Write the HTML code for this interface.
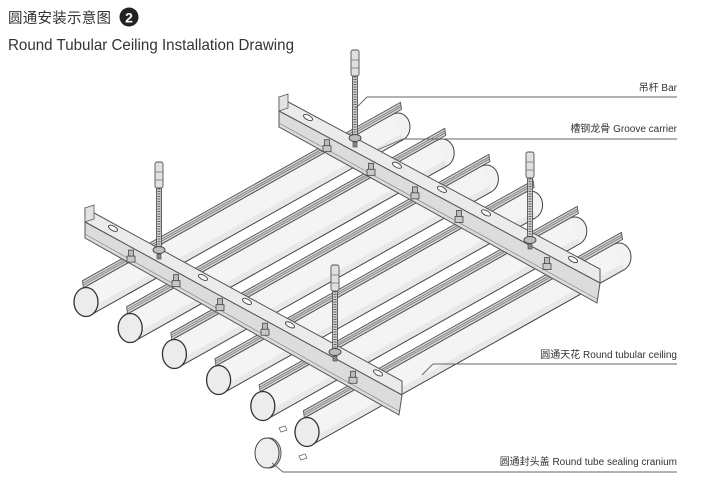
<!DOCTYPE html>
<html><head><meta charset="utf-8">
<style>
html,body{margin:0;padding:0;background:#fff;}
svg{display:block;}
text{font-family:"Liberation Sans","Noto Sans CJK SC",sans-serif;fill:#333;}
</style></head>
<body>
<svg id="s" width="712" height="488" viewBox="0 0 712 488" xmlns="http://www.w3.org/2000/svg">
<g id="draw"></g>
<text x="8" y="23" font-size="14.5" textLength="103">圆通安装示意图</text>
<circle cx="129" cy="17" r="9.5" fill="#222"/>
<text x="129" y="22.5" font-size="14" font-weight="bold" text-anchor="middle" style="fill:#fff">2</text>
<text x="8" y="50" font-size="16" textLength="286" lengthAdjust="spacingAndGlyphs">Round Tubular Ceiling Installation Drawing</text>

<g stroke="#666" stroke-width="0.9" fill="none">
<polyline points="356,108 367,97 677,97"/>
<polyline points="377,150 403,139 677,139"/>
<polyline points="422,375 433,364 677,364"/>
<polyline points="272,463 283,472 677,472"/>
</g>
<text x="677" y="91" font-size="10" text-anchor="end">吊杆  Bar</text>
<text x="677" y="132" font-size="10" text-anchor="end">槽钢龙骨  Groove carrier</text>
<text x="677" y="358" font-size="10" text-anchor="end">圆通天花 Round tubular ceiling</text>
<text x="677" y="465" font-size="10" text-anchor="end">圆通封头盖  Round tube sealing cranium</text>
</svg>
<script>
(function(){
var g=document.getElementById('draw'),h='';
function P(a){return a.map(function(p){return p[0].toFixed(1)+','+p[1].toFixed(1)}).join(' ');}
function add(p,q){return [p[0]+q[0],p[1]+q[1]];}
function sub(p,q){return [p[0]-q[0],p[1]-q[1]];}
function mul(p,k){return [p[0]*k,p[1]*k];}
var AX=[312,-175],L=Math.hypot(AX[0],AX[1]),u=[AX[0]/L,AX[1]/L];
var o=[5.2,12.7];
for(var i=0;i<6;i++){
 var F=[86+44.2*i,302+26*i],B=add(F,AX);
 h+='<ellipse cx="'+B[0]+'" cy="'+B[1]+'" rx="12" ry="14" fill="#f2f2f2" stroke="#444" stroke-width="1"/>';
 h+='<polygon points="'+P([sub(F,o),sub(B,o),add(B,o),add(F,o)])+'" fill="#f4f4f4"/>';
 var s1=add(F,mul(o,0.55)),s2=add(B,mul(o,0.55));
 h+='<polygon points="'+P([s1,s2,add(B,o),add(F,o)])+'" fill="#e8e8e8"/>';
 h+='<line x1="'+sub(F,o)[0]+'" y1="'+sub(F,o)[1]+'" x2="'+sub(B,o)[0]+'" y2="'+sub(B,o)[1]+'" stroke="#444" stroke-width="1"/>';
 h+='<line x1="'+add(F,o)[0]+'" y1="'+add(F,o)[1]+'" x2="'+add(B,o)[0]+'" y2="'+add(B,o)[1]+'" stroke="#444" stroke-width="1"/>';
 var c1=add(sub(F,o),mul(u,3)),c2=add(sub(B,o),mul(u,10));
 var up=[-1,-7];
 h+='<polygon points="'+P([c1,c2,add(c2,up),add(c1,up)])+'" fill="#d4d4d4" stroke="#555" stroke-width="0.9"/>';
 [[-0.5,-2.5],[-0.7,-4.5]].forEach(function(d){var a=add(c1,d),b=add(c2,d);h+='<line x1="'+a[0]+'" y1="'+a[1]+'" x2="'+b[0]+'" y2="'+b[1]+'" stroke="#777" stroke-width="0.8"/>';});
 h+='<ellipse cx="'+F[0]+'" cy="'+F[1]+'" rx="12" ry="14.5" fill="#ececec" stroke="#333" stroke-width="1.3"/>';
}
function beam(x0,y0,x1,y1,slots,bolts){
 var s=(y1-y0)/(x1-x0);function yt(x){return y0+s*(x-x0);}
 h+='<polygon points="'+P([[x0,y0],[x1,y1],[x1,y1+14],[x0,y0+14]])+'" fill="#ebebeb" stroke="#555" stroke-width="1"/>';
 h+='<polygon points="'+P([[x0,y0+14],[x1,y1+14],[x1-3,y1+34],[x0,y0+30]])+'" fill="#dcdcdc" stroke="#555" stroke-width="1"/>';
 h+='<line x1="'+x0+'" y1="'+(y0+26)+'" x2="'+(x1-3)+'" y2="'+(y1+30)+'" stroke="#888" stroke-width="0.7"/>';
 h+='<polygon points="'+P([[x0,y0],[x0+9,y0-3],[x0+9,y0+11],[x0,y0+14]])+'" fill="#e2e2e2" stroke="#555" stroke-width="0.8"/>';
 var ang=Math.atan(s)*180/Math.PI;
 slots.forEach(function(x){h+='<ellipse cx="'+x+'" cy="'+(yt(x)+5)+'" rx="5" ry="2.3" transform="rotate('+ang+' '+x+' '+(yt(x)+5)+')" fill="#fafafa" stroke="#444" stroke-width="0.9"/>';});
 bolts.forEach(function(x){var y=yt(x)+26;
  h+='<rect x="'+(x-2.5)+'" y="'+(y-9)+'" width="5" height="7" fill="#bbb" stroke="#444" stroke-width="0.8"/>';
  h+='<rect x="'+(x-4)+'" y="'+(y-3)+'" width="8" height="6" fill="#c8c8c8" stroke="#444" stroke-width="0.8"/>';});
}
beam(85,208,402,381,[113,203,247,290,378],[131,176,220,265,353]);
beam(279,97,600,269,[308,397,442,486,573],[327,371,415,459,547]);
function rod(x,t,b){
 h+='<rect x="'+(x-2.5)+'" y="'+(t+22)+'" width="5" height="'+(b-t-22)+'" fill="#cfcfcf" stroke="#555" stroke-width="0.9"/>';
 h+='<line x1="'+x+'" y1="'+(t+24)+'" x2="'+x+'" y2="'+(b-4)+'" stroke="#666" stroke-width="3" stroke-dasharray="1 1.5"/>';
 h+='<rect x="'+(x-4)+'" y="'+t+'" width="8" height="26" rx="2" fill="#e0e0e0" stroke="#555" stroke-width="0.9"/>';
 h+='<line x1="'+(x-4)+'" y1="'+(t+10)+'" x2="'+(x+4)+'" y2="'+(t+10)+'" stroke="#777" stroke-width="0.8"/>';
 h+='<line x1="'+(x-4)+'" y1="'+(t+18)+'" x2="'+(x+4)+'" y2="'+(t+18)+'" stroke="#777" stroke-width="0.8"/>';
 h+='<ellipse cx="'+x+'" cy="'+(b-2)+'" rx="6" ry="3.5" fill="#bcbcbc" stroke="#444" stroke-width="0.9"/>';
 h+='<rect x="'+(x-2)+'" y="'+(b+2)+'" width="4" height="5" fill="#888" stroke="#444" stroke-width="0.6"/>';
}
rod(355,50,140);rod(159,162,252);rod(530,152,242);rod(335,265,354);
h+='<ellipse cx="269" cy="453" rx="12" ry="15" fill="#ddd" stroke="#555" stroke-width="1"/>';
h+='<ellipse cx="267" cy="453" rx="12" ry="15" fill="#eee" stroke="#444" stroke-width="1"/>';
h+='<polygon points="279,428 285,426 287,430 281,432" fill="#fff" stroke="#666" stroke-width="0.8"/>';
h+='<polygon points="299,456 305,454 307,458 301,460" fill="#fff" stroke="#666" stroke-width="0.8"/>';
g.innerHTML=h;
})();
</script>
</body></html>
